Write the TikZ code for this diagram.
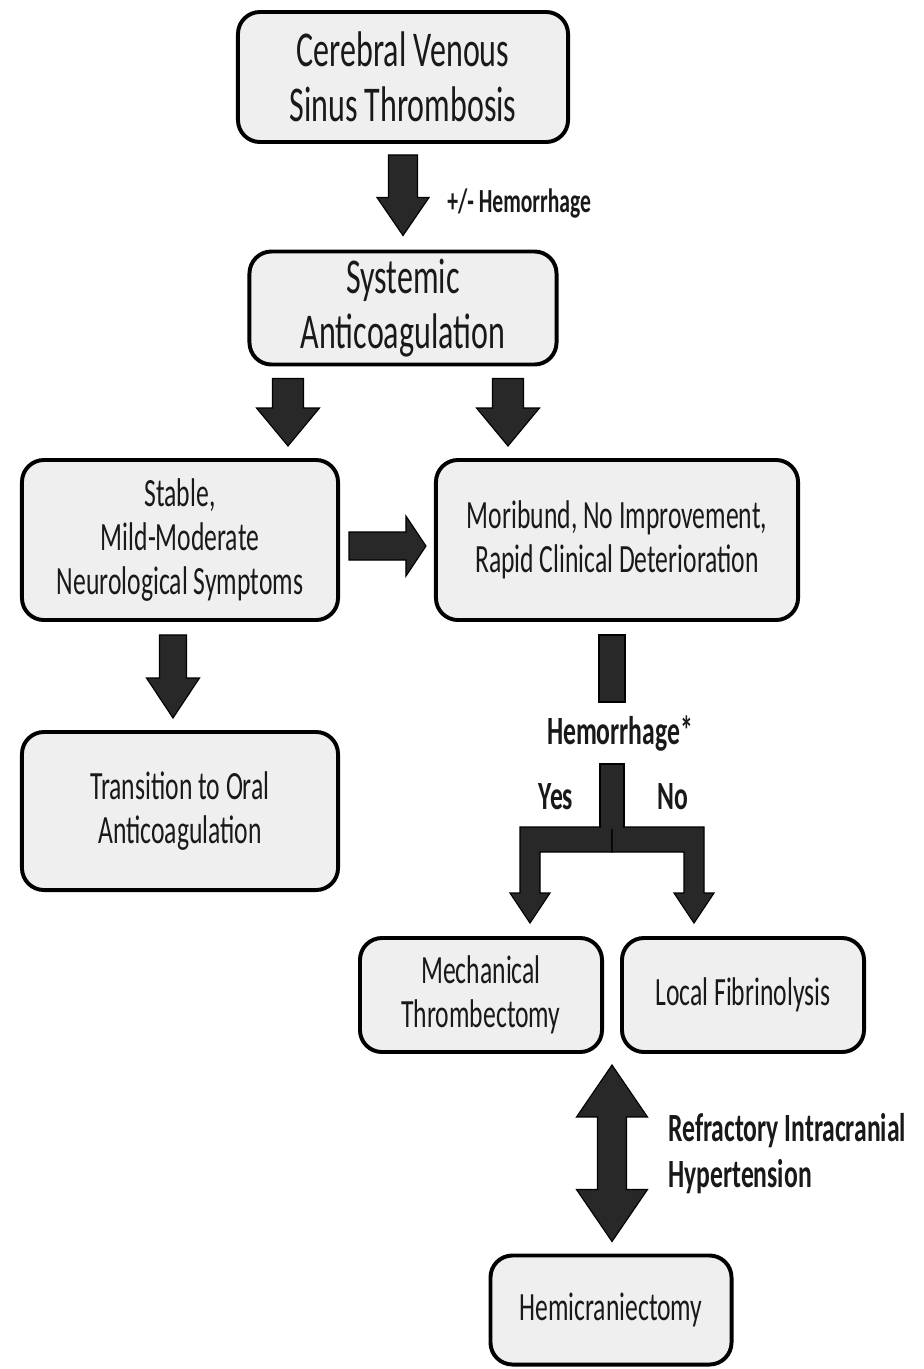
\documentclass[tikz,border=0pt]{standalone}
\usepackage{fontspec}
\setmainfont{Carlito}[FakeStretch=0.64]
\usepackage{xcolor}
\usepackage{tikz}
\usetikzlibrary{calc}

\definecolor{boxgray}{RGB}{239,239,239}
\definecolor{arrowgray}{RGB}{40,40,40}

% block arrows: start, end, shaft half width, head half width, head length
\newcommand{\downblock}[5]{%
  \draw[blockarrow] ($(#1)+(-#3,0)$) -- ($(#1)+(#3,0)$) -- ($(#2)+(#3,-#5)$) -- ($(#2)+(#4,-#5)$)
    -- (#2) -- ($(#2)+(-#4,-#5)$) -- ($(#2)+(-#3,-#5)$) -- cycle;}
\newcommand{\rightblock}[5]{%
  \draw[blockarrow] ($(#1)+(0,-#3)$) -- ($(#2)+(-#5,-#3)$) -- ($(#2)+(-#5,-#4)$) -- (#2)
    -- ($(#2)+(-#5,#4)$) -- ($(#2)+(-#5,#3)$) -- ($(#1)+(0,#3)$) -- cycle;}
\newcommand{\updownblock}[5]{%
  \draw[blockarrow] (#1) -- ($(#1)+(#4,#5)$) -- ($(#1)+(#3,#5)$) -- ($(#2)+(#3,-#5)$) -- ($(#2)+(#4,-#5)$)
    -- (#2) -- ($(#2)+(-#4,-#5)$) -- ($(#2)+(-#3,-#5)$) -- ($(#1)+(-#3,#5)$) -- ($(#1)+(-#4,#5)$) -- cycle;}

\begin{document}
\begin{tikzpicture}[
    x=0.025cm, y=-0.025cm,
    box/.style={rectangle, rounded corners=0.55cm, draw=black, line width=2.8pt, fill=boxgray, align=center, text=black!90, font=\fontsize{28.5}{31.5}\selectfont, inner sep=0pt},
    bigbox/.style={box, font=\fontsize{35.6}{39.5}\selectfont},
    blockarrow/.style={draw=black, line width=0.8pt, fill=arrowgray, line join=miter},
    lbl/.style={font=\bfseries\fontsize{28.5}{32}\selectfont, text=black!90, inner sep=0pt},
    smalllbl/.style={lbl, font=\bfseries\fontsize{24}{27}\selectfont},
  ]
  \useasboundingbox (0,0) rectangle (923,1369);

  \node[bigbox, minimum width=8.25cm, minimum height=3.25cm] (cvst) at (403,77) {Cerebral Venous\\Sinus Thrombosis};
  \node[bigbox, minimum width=7.675cm, minimum height=2.825cm] (sys) at (403,308) {Systemic\\Anticoagulation};
  \node[box, minimum width=7.9cm, minimum height=4cm] (stable) at (180,540) {Stable,\\Mild-Moderate\\Neurological Symptoms};
  \node[box, minimum width=9.05cm, minimum height=4cm] (mori) at (617,540) {Moribund, No Improvement,\\Rapid Clinical Deterioration};
  \node[box, minimum width=7.9cm, minimum height=3.95cm] (oral) at (180,811) {Transition to Oral\\Anticoagulation};
  \node[box, minimum width=6.05cm, minimum height=2.85cm] (mech) at (481,995) {Mechanical\\Thrombectomy};
  \node[box, minimum width=6.05cm, minimum height=2.85cm] (fibr) at (743,995) {Local Fibrinolysis};
  \node[box, minimum width=6.025cm, minimum height=2.725cm] (hemi) at (611,1310) {Hemicraniectomy};

  % arrow ends
  \coordinate (a1s) at ($(cvst.south)+(0,11)$);
  \coordinate (a1e) at ($(sys.north)+(0,-14)$);
  \coordinate (a2ls) at ($(sys.south)+(-115,12)$);
  \coordinate (a2le) at ($(a2ls |- stable.north)+(0,-12)$);
  \coordinate (a2rs) at ($(sys.south)+(105,12)$);
  \coordinate (a2re) at ($(a2rs |- mori.north)+(0,-12)$);
  \coordinate (a3s) at ($(stable.east)+(9,6)$);
  \coordinate (a3e) at ($(mori.west)+(-8,6)$);
  \coordinate (a4s) at ($(stable.south)+(-7,13)$);
  \coordinate (a4e) at ($(a4s |- oral.north)+(0,-12)$);
  \coordinate (bars) at ($(mori.south)+(-5,13)$);
  \coordinate (brt) at ($(mori.south)+(-5,142)$);
  \coordinate (brj) at ($(brt)+(0,63)$);
  \coordinate (ytip) at ($(mech.north)+(49,-13)$);
  \coordinate (ntip) at ($(fibr.north)+(-49,-13)$);
  \coordinate (dbt) at ($(mech.south east)!0.5!(fibr.south west)+(0,11)$);
  \coordinate (dbb) at ($(dbt |- hemi.north)+(0,-12)$);

  \downblock{a1s}{a1e}{14.5}{26}{38}
  \downblock{a2ls}{a2le}{15.5}{31.5}{38}
  \downblock{a2rs}{a2re}{15.5}{31.5}{38}
  \rightblock{a3s}{a3e}{14}{30}{20}
  \downblock{a4s}{a4e}{13.5}{26.5}{40}
  \draw[blockarrow] ($(bars)+(-13,0)$) rectangle ($(bars)+(13,67)$);

  % hemorrhage split
  \draw[blockarrow] (brj) -- ($(ytip |- brj)+(-10,0)$) -- ($(ytip)+(-10,-30)$) -- ($(ytip)+(-20,-30)$) -- (ytip)
    -- ($(ytip)+(20,-30)$) -- ($(ytip)+(10,-30)$) -- ($(ytip |- brj)+(10,25)$) -- ($(brj)+(0,25)$) -- cycle;
  \draw[blockarrow] (brj) -- ($(ntip |- brj)+(10,0)$) -- ($(ntip)+(10,-30)$) -- ($(ntip)+(20,-30)$) -- (ntip)
    -- ($(ntip)+(-20,-30)$) -- ($(ntip)+(-10,-30)$) -- ($(ntip |- brj)+(-10,25)$) -- ($(brj)+(0,25)$) -- cycle;
  \fill[arrowgray] ($(brt)+(-12,0)$) rectangle ($(brj)+(12,2)$);
  \draw[line width=0.8pt] ($(brj)+(-12,1)$) -- ($(brt)+(-12,0)$) -- ($(brt)+(12,0)$) -- ($(brj)+(12,1)$);

  \updownblock{dbt}{dbb}{14.5}{35.5}{52}

  % labels
  \node[smalllbl, anchor=west] (hlbl) at ($(a1s)!0.5!(a1e)+(44,8)$) {+/- Hemorrhage};
  \node[lbl] (hq) at ($(mori.south)+(3,112)$) {Hemorrhage*};
  \node[lbl] (yes) at ($(brt)+(-56,33)$) {Yes};
  \node[lbl] (no) at ($(brt)+(61,33)$) {No};
  \node[lbl, anchor=west, align=left, font=\bfseries\fontsize{28.5}{32.5}\selectfont] (ich) at ($(dbt)!0.5!(dbb)+(56,0)$) {Refractory Intracranial\\Hypertension};

\end{tikzpicture}
\end{document}
